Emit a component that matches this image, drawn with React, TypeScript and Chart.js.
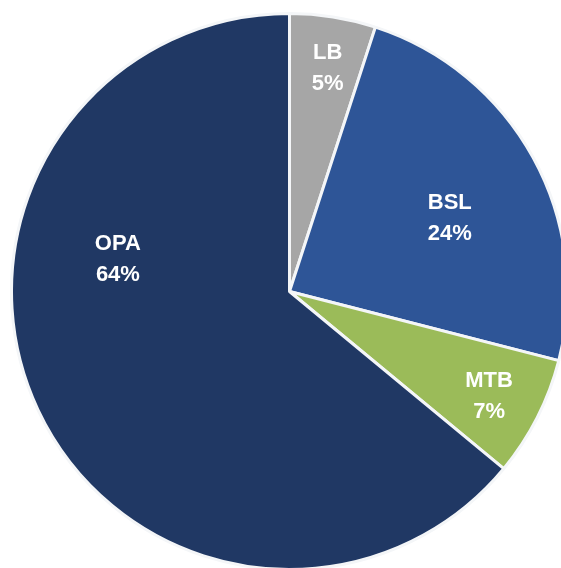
import React, { useEffect, useRef } from "react";
import { Chart, registerables } from "chart.js";

Chart.register(...registerables);

const categories = ["LB", "BSL", "MTB", "OPA"];
const shares = [5, 24, 7, 64];
const sliceColors = ["#a6a6a6", "#2e5597", "#9bbb59", "#203864"];

// label placement (polar, relative to pie centre): angle in degrees clockwise from 12 o'clock, radius fraction
const labelPlacement: Record<string, { angle?: number; r: number }> = {
  LB: { angle: 9.7, r: 0.815 },
  BSL: { angle: 65.2, r: 0.635 },
  MTB: { angle: 117.6, r: 0.81 },
  OPA: { angle: 280.6, r: 0.628 },
};

const labelPlugin = {
  id: "sliceLabels",
  afterDatasetsDraw(chart: any) {
    const { ctx } = chart;
    const meta = chart.getDatasetMeta(0);
    ctx.save();
    ctx.fillStyle = "#ffffff";
    ctx.font = 'bold 22px "Liberation Sans", Arial, sans-serif';
    ctx.textAlign = "center";
    ctx.textBaseline = "middle";
    meta.data.forEach((arc: any, i: number) => {
      const { x, y, startAngle, endAngle, outerRadius } = arc.getProps(
        ["x", "y", "startAngle", "endAngle", "outerRadius"],
        true
      );
      const cat = categories[i];
      const p = labelPlacement[cat];
      const ang =
        p.angle !== undefined ? (p.angle * Math.PI) / 180 - Math.PI / 2 : (startAngle + endAngle) / 2;
      const cx = x + Math.cos(ang) * outerRadius * p.r;
      const cy = y + Math.sin(ang) * outerRadius * p.r;
      ctx.fillText(cat, cx, cy - 15);
      ctx.fillText(shares[i] + "%", cx, cy + 16);
    });
    ctx.restore();
  },
};

export default function App() {
  const ref = useRef<HTMLCanvasElement>(null);
  useEffect(() => {
    const prevMargin = document.body.style.margin;
    document.body.style.margin = "0";
    const chart = new Chart(ref.current!, {
      type: "pie",
      data: {
        labels: categories,
        datasets: [
          {
            data: shares,
            backgroundColor: sliceColors,
            borderColor: "#f4f6f8",
            borderWidth: 3,
          },
        ],
      },
      options: {
        responsive: false,
        animation: false,
        plugins: { legend: { display: false }, tooltip: { enabled: false } },
        layout: { padding: 0 },
      },
      plugins: [labelPlugin],
    });
    return () => {
      chart.destroy();
      document.body.style.margin = prevMargin;
    };
  }, []);
  return (
    <div
      style={{
        position: "absolute",
        left: 0,
        top: 0,
        width: 561,
        height: 568,
        overflow: "hidden",
        background: "#ffffff",
      }}
    >
      <canvas
        ref={ref}
        width={559}
        height={559}
        style={{ position: "absolute", left: 10, top: 12, width: 559, height: 559 }}
      />
    </div>
  );
}
